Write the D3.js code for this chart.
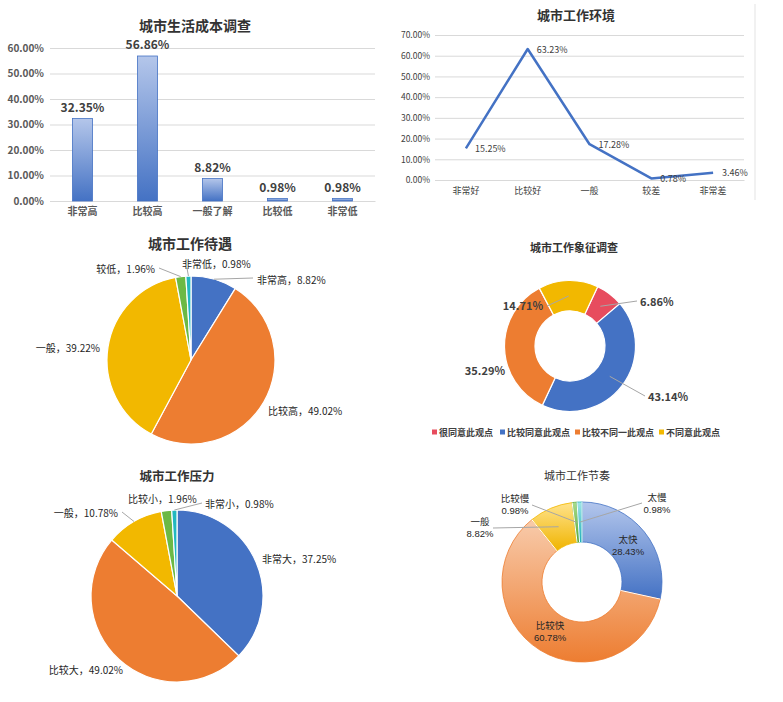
<!DOCTYPE html>
<html>
<head>
<meta charset="utf-8">
<script src="https://cdn.jsdelivr.net/npm/d3@7"></script>
<style>
body { margin: 0; background: #fff; }
svg { display: block; font-family: "Noto Sans CJK SC", "Noto Sans", sans-serif; }
</style>
</head>
<body>
<svg width="783" height="702"></svg>
<script>
// ---- data ----
var costCats = ["非常高", "比较高", "一般了解", "比较低", "非常低"];
var costVals = [32.35, 56.86, 8.82, 0.98, 0.98];
var costTicks = [0, 10, 20, 30, 40, 50, 60];

var envCats = ["非常好", "比较好", "一般", "较差", "非常差"];
var envVals = [15.25, 63.23, 17.28, 0.78, 3.46];
var envTicks = [0, 10, 20, 30, 40, 50, 60, 70];

var payCats = ["非常高", "比较高", "一般", "较低", "非常低"];
var payVals = [8.82, 49.02, 39.22, 1.96, 0.98];

var symCats = ["很同意此观点", "比较同意此观点", "比较不同一此观点", "不同意此观点"];
var symVals = [6.86, 43.14, 35.29, 14.71];

var pressCats = ["非常大", "比较大", "一般", "比较小", "非常小"];
var pressVals = [37.25, 49.02, 10.78, 1.96, 0.98];

var paceCats = ["太快", "比较快", "一般", "比较慢", "太慢"];
var paceVals = [28.43, 60.78, 8.82, 0.98, 0.98];

var blue = "#4472c4", orange = "#ed7d31", gold = "#f2b800", green = "#6cb945", teal = "#22b8c0", red = "#e74c5e";
var grid = "#d9d9d9", txt = "#404040", lead = "#a6a6a6";

var svg = d3.select("svg");
var defs = svg.append("defs");
svg.append("rect").attr("width", 783).attr("height", 702).attr("fill", "#fff");

function grad(id, c0, c1) {
	var g = defs.append("linearGradient").attr("id", id)
		.attr("x1", 0).attr("y1", 0).attr("x2", 0).attr("y2", 1);
	g.append("stop").attr("offset", 0).attr("stop-color", c0);
	g.append("stop").attr("offset", 1).attr("stop-color", c1);
}
grad("barGrad", "#b4c6ea", "#4472c4");
grad("gBlue", "#b3c6ec", "#4472c4");
grad("gOrange", "#f8cbab", "#ed7d31");
grad("gGold", "#ffe38c", "#f0b400");
grad("gGreen", "#a9dc8c", "#5aa835");
grad("gTeal", "#9fe6e8", "#1fb0b8");

function title(x, y, s, size, weight) {
	svg.append("text").attr("x", x).attr("y", y)
		.attr("text-anchor", "middle").attr("dominant-baseline", "central")
		.attr("font-size", size).attr("font-weight", weight).attr("fill", "#333")
		.text(s);
}

// ---- 城市生活成本调查 (bars) ----
var x1 = d3.scaleBand().domain(costCats).range([50, 375]);
var y1 = d3.scaleLinear().domain([0, 60]).range([201, 48]);
title(195, 25, "城市生活成本调查", 14, "bold");

var g1 = svg.append("g");
g1.append("g").attr("transform", "translate(50,0)")
	.call(d3.axisLeft(y1).tickValues(costTicks).tickSize(-325).tickPadding(6)
		.tickFormat(d => d.toFixed(2) + "%"))
	.call(a => a.select(".domain").remove())
	.call(a => a.selectAll("line").attr("stroke", grid))
	.call(a => a.selectAll("text").attr("fill", "#595959").attr("font-size", 10)
		.attr("font-weight", "bold").attr("font-family", "Noto Sans CJK SC"));

g1.append("g").attr("transform", "translate(0,201)")
	.call(d3.axisBottom(x1).tickSize(0).tickPadding(7))
	.call(a => a.select(".domain").attr("stroke", grid))
	.call(a => a.selectAll("text").attr("fill", "#595959").attr("font-size", 10)
		.attr("font-weight", "bold").attr("font-family", "Noto Sans CJK SC"));

g1.selectAll("rect.bar").data(costVals).enter().append("rect")
	.attr("class", "bar")
	.attr("x", (d, i) => x1(costCats[i]) + x1.bandwidth() / 2 - 10)
	.attr("width", 20)
	.attr("y", d => y1(d))
	.attr("height", d => y1(0) - y1(d))
	.attr("fill", "url(#barGrad)")
	.attr("stroke", blue).attr("stroke-width", 0.8);

g1.selectAll("text.val").data(costVals).enter().append("text")
	.attr("class", "val")
	.attr("x", (d, i) => x1(costCats[i]) + x1.bandwidth() / 2)
	.attr("y", d => y1(d) - 7)
	.attr("text-anchor", "middle")
	.attr("font-size", 12).attr("font-weight", "bold").attr("fill", txt)
	.text(d => d.toFixed(2) + "%");

// ---- 城市工作环境 (line) ----
var x2 = d3.scaleBand().domain(envCats).range([435, 744]);
var y2 = d3.scaleLinear().domain([0, 70]).range([180, 35]);
title(576, 14, "城市工作环境", 13, "bold");

svg.append("line").attr("x1", 755).attr("x2", 755).attr("y1", 4).attr("y2", 200)
	.attr("stroke", "#e3e3e3");

var g2 = svg.append("g");
g2.append("g").attr("transform", "translate(435,0)")
	.call(d3.axisLeft(y2).tickValues(envTicks).tickSize(-309).tickPadding(5)
		.tickFormat(d => d.toFixed(2) + "%"))
	.call(a => a.select(".domain").remove())
	.call(a => a.selectAll("line").attr("stroke", grid))
	.call(a => a.selectAll("text").attr("fill", txt).attr("font-size", 8.5)
		.attr("font-family", "Noto Sans CJK SC"));

g2.append("g").attr("transform", "translate(0,180)")
	.call(d3.axisBottom(x2).tickSize(0).tickPadding(8))
	.call(a => a.select(".domain").attr("stroke", grid))
	.call(a => a.selectAll("text").attr("fill", txt).attr("font-size", 9)
		.attr("font-family", "Noto Sans CJK SC"));

var line = d3.line()
	.x((d, i) => x2(envCats[i]) + x2.bandwidth() / 2)
	.y(d => y2(d));
g2.append("path").datum(envVals).attr("d", line)
	.attr("fill", "none").attr("stroke", blue).attr("stroke-width", 2.5)
	.attr("stroke-linejoin", "round");

g2.selectAll("text.lab").data(envVals).enter().append("text")
	.attr("class", "lab")
	.attr("x", (d, i) => x2(envCats[i]) + x2.bandwidth() / 2 + 9)
	.attr("y", d => y2(d))
	.attr("dominant-baseline", "central")
	.attr("font-size", 9).attr("fill", txt)
	.text(d => d.toFixed(2) + "%");

// ---- pies / donuts ----
function drawPie(o) {
	var g = svg.append("g").attr("transform", "translate(" + o.cx + "," + o.cy + ")");
	var pie = d3.pie().sort(null).value(d => d)
		.startAngle(o.start).endAngle(o.start + 2 * Math.PI);
	var arcs = pie(o.vals);
	var arc = d3.arc().innerRadius(o.inner).outerRadius(o.outer);
	g.selectAll("path").data(arcs).enter().append("path")
		.attr("d", arc)
		.attr("fill", (d, i) => o.fills[i])
		.attr("stroke", (d, i) => o.strokes ? o.strokes[i] : "#fff")
		.attr("stroke-width", o.strokes ? 0.8 : 1.2);
	if (o.strokes) {
		// white separators between slices
		g.selectAll("line.sep").data(arcs).enter().append("line")
			.attr("x1", d => o.inner * Math.sin(d.startAngle))
			.attr("y1", d => -o.inner * Math.cos(d.startAngle))
			.attr("x2", d => o.outer * Math.sin(d.startAngle))
			.attr("y2", d => -o.outer * Math.cos(d.startAngle))
			.attr("stroke", "#fff").attr("stroke-width", 1);
	}
	arcs.forEach(function (d, i) {
		var L = o.labels[i];
		var mid = (d.startAngle + d.endAngle) / 2;
		if (L.ex != null) {
			var ax = o.leadR * Math.sin(mid), ay = -o.leadR * Math.cos(mid);
			g.append("line").attr("x1", ax).attr("y1", ay).attr("x2", L.ex).attr("y2", L.ey)
				.attr("stroke", lead).attr("stroke-width", 1);
		}
		var lines = o.text(o.cats[i], o.vals[i]);
		// one text per line, so two-line labels stack cleanly
		lines.forEach(function (s, k) {
			g.append("text").attr("x", L.x).attr("y", L.y + k * 12.5)
				.attr("text-anchor", L.a).attr("dominant-baseline", "central")
				.attr("font-size", k ? 9.5 : o.fs)
				.attr("font-family", k ? "Liberation Sans" : null)
				.attr("font-weight", o.fw || "normal").attr("fill", o.color || "#262626")
				.text(s);
		});
	});
	return g;
}

var pctTxt = v => v.toFixed(2) + "%";

// 城市工作待遇
title(190, 243, "城市工作待遇", 14, "bold");
drawPie({
	cx: 191, cy: 360, inner: 0, outer: 84, start: 0, leadR: 84,
	vals: payVals, cats: payCats, fs: 10,
	fills: [blue, orange, gold, green, teal],
	text: (c, v) => [c + "，" + pctTxt(v)],
	labels: [
		{ x: 66, y: -81, a: "start", ex: 62, ey: -82 },
		{ x: 77, y: 50, a: "start" },
		{ x: -91, y: -13, a: "end" },
		{ x: -36, y: -92, a: "end", ex: -32, ey: -92 },
		{ x: -9, y: -97, a: "start", ex: -4, ey: -92 }
	]
});

// 城市工作象征调查
title(574, 247, "城市工作象征调查", 11, "bold");
drawPie({
	cx: 570, cy: 346, inner: 35, outer: 65.5, start: 25 * Math.PI / 180, leadR: 50,
	vals: symVals, cats: symCats, fs: 11, fw: "bold", color: txt,
	fills: [red, blue, orange, gold],
	text: (c, v) => [pctTxt(v)],
	labels: [
		{ x: 70, y: -45, a: "start", ex: 67, ey: -45 },
		{ x: 78, y: 50, a: "start", ex: 75, ey: 50 },
		{ x: -65, y: 24, a: "end" },
		{ x: -27, y: -41, a: "end", ex: -23, ey: -40 }
	]
});

// legend
var legFills = [red, blue, orange, gold];
var legX = [432, 500, 575, 659];
var leg = svg.append("g");
symCats.forEach(function (c, i) {
	leg.append("rect").attr("x", legX[i]).attr("y", 429.5).attr("width", 5).attr("height", 5)
		.attr("fill", legFills[i]);
	leg.append("text").attr("x", legX[i] + 7).attr("y", 432)
		.attr("dominant-baseline", "central").attr("font-size", 9)
		.attr("font-weight", "bold").attr("fill", txt).text(c);
});

// 城市工作压力
title(177, 475, "城市工作压力", 12.5, "bold");
drawPie({
	cx: 177, cy: 596, inner: 0, outer: 86, start: 0, leadR: 86,
	vals: pressVals, cats: pressCats, fs: 10,
	fills: [blue, orange, gold, green, teal],
	text: (c, v) => [c + "，" + pctTxt(v)],
	labels: [
		{ x: 85, y: -38, a: "start" },
		{ x: -54, y: 73, a: "end" },
		{ x: -59, y: -84, a: "end", ex: -55, ey: -84 },
		{ x: -49, y: -98, a: "start" },
		{ x: 28, y: -93, a: "start", ex: 25, ey: -93 }
	]
});

// 城市工作节奏
title(577, 475, "城市工作节奏", 11, "normal");
drawPie({
	cx: 582, cy: 582, inner: 40, outer: 80, start: 0, leadR: 60,
	vals: paceVals, cats: paceCats, fs: 9.5,
	fills: ["url(#gBlue)", "url(#gOrange)", "url(#gGold)", "url(#gGreen)", "url(#gTeal)"],
	strokes: [blue, orange, gold, "#5aa835", "#1fb0b8"],
	text: (c, v) => [c, pctTxt(v)],
	labels: [
		{ x: 46, y: -43, a: "middle" },
		{ x: -32, y: 43, a: "middle" },
		{ x: -102, y: -61, a: "middle", ex: -89, ey: -54 },
		{ x: -67, y: -84, a: "middle", ex: -50, ey: -77 },
		{ x: 75, y: -85, a: "middle", ex: 60, ey: -79 }
	]
});
</script>
</body>
</html>
